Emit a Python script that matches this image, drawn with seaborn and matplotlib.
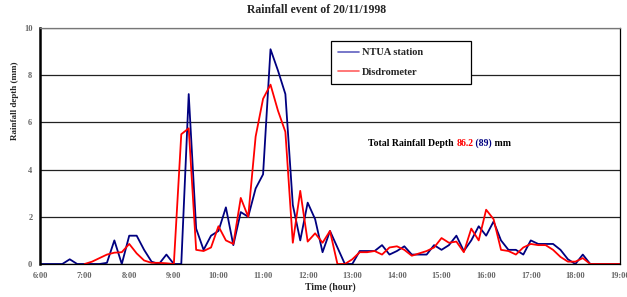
import numpy as np
import pandas as pd
import matplotlib
matplotlib.use('Agg')
import matplotlib.pyplot as plt
import seaborn as sns

# 10-minute readings from 6:00 to 19:00
minutes = np.arange(0, 781, 10)
ntua = [0, 0, 0, 0, 0.2, 0,
        0, 0, 0, 0.05, 1.0, 0.0,
        1.2, 1.2, 0.6, 0.1, 0.0, 0.4,
        0.0, 0.0, 7.2, 1.5, 0.6, 1.2,
        1.4, 2.4, 0.8, 2.2, 2.0, 3.2,
        3.8, 9.1, 8.2, 7.2, 2.5, 1.0,
        2.6, 1.9, 0.5, 1.4, 0.7, 0.0,
        0.0, 0.55, 0.55, 0.55, 0.8, 0.4,
        0.55, 0.75, 0.4, 0.4, 0.4, 0.8,
        0.6, 0.8, 1.2, 0.55, 1.0, 1.6,
        1.2, 1.8, 1.0, 0.6, 0.6, 0.4,
        1.0, 0.85, 0.85, 0.85, 0.6, 0.2,
        0.0, 0.4, 0.0, 0, 0, 0,
        0]
disdro = [np.nan] * 6 + [
        0, 0.1, 0.25, 0.4, 0.48, 0.5,
        0.85, 0.45, 0.15, 0.05, 0.05, 0.03,
        0.0, 5.5, 5.75, 0.6, 0.55, 0.7,
        1.6, 1.0, 0.85, 2.8, 2.0, 5.4,
        7.0, 7.6, 6.5, 5.6, 0.9, 3.1,
        0.95, 1.3, 0.9, 1.4, 0.0, 0.0,
        0.2, 0.5, 0.5, 0.55, 0.4, 0.7,
        0.75, 0.6, 0.35, 0.45, 0.55, 0.7,
        1.1, 0.9, 0.95, 0.5, 1.5, 1.0,
        2.3, 1.9, 0.6, 0.55, 0.4, 0.7,
        0.85, 0.8, 0.8, 0.6, 0.3, 0.1,
        0.1, 0.25, 0.0, 0, 0, 0,
        0]
hour_ticks = list(range(6, 20))
hour_labels = [f'{h}:00' for h in hour_ticks]
y_ticks = [0, 2, 4, 6, 8, 10]
total_disdro = '86.2'
total_ntua = '(89)'

hours = 6 + minutes / 60
df = pd.DataFrame({
    'hour': np.concatenate([hours, hours]),
    'depth': ntua + disdro,
    'series': ['NTUA station'] * len(hours) + ['Disdrometer'] * len(hours),
})

sns.set_style('white')
plt.rcParams['font.family'] = ['Liberation Serif', 'DejaVu Serif']

fig = plt.figure(figsize=(6.27, 2.97), dpi=100)
ax = fig.add_axes([0.0638, 0.1111, 0.925, 0.7946])

palette = {'NTUA station': '#000080', 'Disdrometer': '#ff0000'}
sns.lineplot(data=df, x='hour', y='depth', hue='series', palette=palette,
             linewidth=1.3, ax=ax, legend=False)

ax.set_xlim(6, 19)
ax.set_ylim(0, 10)
ax.set_xticks(hour_ticks)
ax.set_xticklabels(hour_labels)
ax.set_yticks(y_ticks)
ax.set_yticklabels([str(v) for v in y_ticks])
ax.tick_params(axis='both', labelsize=6, labelcolor='#666666', length=2.5,
               width=0.8, color='black', direction='out', pad=3)
for lab in ax.get_xticklabels() + ax.get_yticklabels():
    lab.set_fontweight('bold')

ax.yaxis.grid(True, color='#222222', linewidth=0.9)
ax.set_axisbelow(True)
for side in ['top', 'right', 'bottom']:
    ax.spines[side].set_color('black')
    ax.spines[side].set_linewidth(0.9)
ax.spines['top'].set_color('#777777')
ax.spines['left'].set_color('black')
ax.spines['left'].set_linewidth(1.8)

ax.set_xlabel('Time (hour)', fontsize=7, fontweight='bold')
ax.set_ylabel('Rainfall depth (mm)', fontsize=6.5, fontweight='bold')
ax.xaxis.set_label_coords(0.5, -0.08)
ax.yaxis.set_label_coords(-0.036, 0.69)

fig.text(0.505, 0.965, 'Rainfall event of 20/11/1998', ha='center', va='center',
         fontsize=8.5, fontweight='bold')

handles = [plt.Line2D([], [], color='#6060c0', lw=1.2),
           plt.Line2D([], [], color='#ff6060', lw=1.2)]
leg = ax.legend(handles, ['NTUA station', 'Disdrometer'],
                bbox_to_anchor=(0.502, 0.758, 0.241, 0.191), loc='center',
                mode='expand', fancybox=False, framealpha=1, edgecolor='black',
                prop={'size': 7.5, 'weight': 'bold'}, handlelength=2.0,
                handletextpad=0.25, labelspacing=1.0, borderpad=0.7,
                borderaxespad=0)
leg.get_frame().set_linewidth(0.9)

txt_kw = dict(fontsize=7, fontweight='bold', va='bottom')
t1 = ax.text(0.566, 0.49, 'Total Rainfall Depth ', transform=ax.transAxes,
             color='black', **txt_kw)
t2 = ax.annotate(total_disdro, xy=(1, 0), xycoords=t1, color='red', **txt_kw)
t3 = ax.annotate(' ' + total_ntua, xy=(1, 0), xycoords=t2, color='#000080', **txt_kw)
ax.annotate(' mm', xy=(1, 0), xycoords=t3, color='black', **txt_kw)

fig.savefig('out.png', dpi=100)
